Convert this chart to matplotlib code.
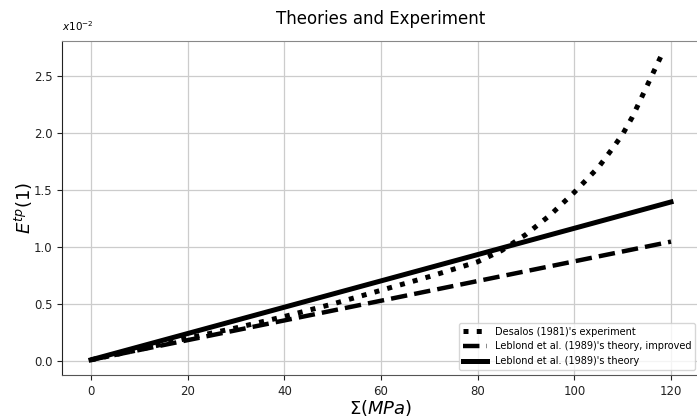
import matplotlib
matplotlib.use("Agg")
import matplotlib.pyplot as plt
import numpy as np

# Data (values in units of 1e-2)
sigma_exp = [0, 10, 20, 30, 40, 50, 60, 70, 80, 85, 90, 95, 100, 105, 108, 110, 112, 114, 116, 118]
e_exp = [0.01, 0.10, 0.20, 0.29, 0.39, 0.50, 0.62, 0.74, 0.87, 0.97, 1.11, 1.28, 1.48, 1.70, 1.87, 1.99, 2.14, 2.32, 2.50, 2.68]

sigma_theory = [0, 120]
e_improved = [0.01, 1.047]
e_theory = [0.01, 1.395]

labels = ["Desalos (1981)'s experiment",
          "Leblond et al. (1989)'s theory, improved",
          "Leblond et al. (1989)'s theory"]

fig = plt.figure(figsize=(6.97, 4.20), dpi=100)
W, H = 697, 420
left, right, top, bottom = 62, 700, 41, 375
ax = fig.add_axes([left / W, 1 - bottom / H, (right - left) / W, (bottom - top) / H])

ax.plot(sigma_exp, e_exp, linestyle=':', color='black', linewidth=3.6, label=labels[0])
ax.plot(sigma_theory, e_improved, linestyle='--', color='black', linewidth=3.2, label=labels[1])
ax.plot(sigma_theory, e_theory, linestyle='-', color='black', linewidth=3.6, label=labels[2])

ax.set_xlim(-6, 126)
ax.set_ylim(-0.123, 2.807)
ax.set_xticks([0, 20, 40, 60, 80, 100, 120])
ax.set_yticks([0.0, 0.5, 1.0, 1.5, 2.0, 2.5])
ax.set_yticklabels(["0.0", "0.5", "1.0", "1.5", "2.0", "2.5"])
ax.tick_params(labelsize=8.5, colors='#222222')
ax.grid(True, color='#cccccc', linewidth=0.9)
ax.set_axisbelow(True)
ax.spines['top'].set_color('#888888')
ax.spines['bottom'].set_color('#555555')
ax.spines['left'].set_color('#222222')

ax.set_title("Theories and Experiment", fontsize=12, pad=12)
ax.set_xlabel(r"$\Sigma(MPa)$", fontsize=13, labelpad=0)
ax.set_ylabel(r"$E^{tp}(1)$", fontsize=13, labelpad=-1)
ax.text(0.0, 1.025, r"$x10^{-2}$", transform=ax.transAxes, fontsize=7.5, ha='left', va='bottom')

ax.legend(loc='lower right', fontsize=7, handlelength=2.5, frameon=True)

fig.savefig("out.png", dpi=100)
